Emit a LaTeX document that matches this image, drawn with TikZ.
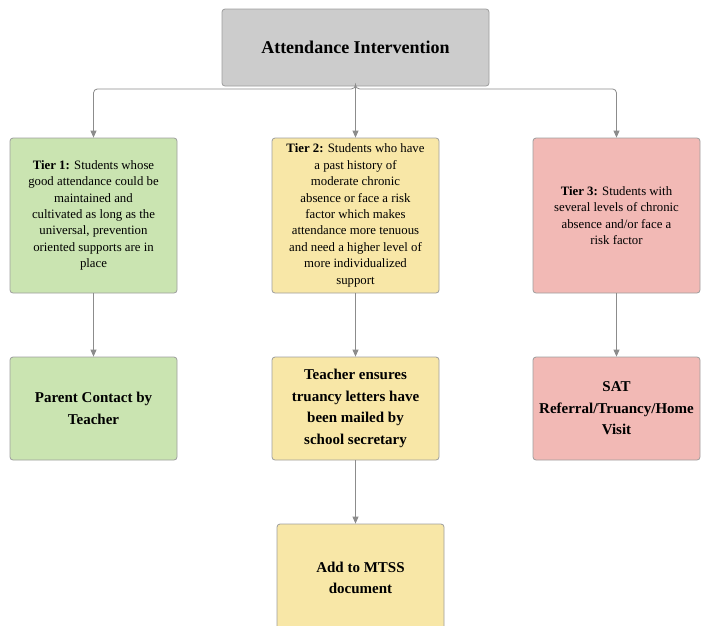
\documentclass[tikz,border=0pt]{standalone}
\usepackage{fontspec}
\setmainfont{Liberation Serif}
\usetikzlibrary{arrows.meta}
\definecolor{topfill}{HTML}{CCCCCC}
\definecolor{greenfill}{HTML}{CAE4B1}
\definecolor{yellowfill}{HTML}{F8E7A7}
\definecolor{pinkfill}{HTML}{F2B9B5}
\definecolor{boxline}{HTML}{9E9E9E}
\definecolor{arrline}{HTML}{8C8C8C}
\tikzset{
  box/.style={draw=boxline, line width=0.8pt, rounded corners=3pt, align=center,
    minimum width=167pt, inner sep=2pt},
  tierbox/.style={box, minimum height=155pt, font=\fontsize{12.8}{16.4}\selectfont},
  actbox/.style={box, minimum height=103pt, font=\fontsize{15}{21.5}\selectfont\bfseries},
  arr/.style={draw=arrline, line width=0.8pt, -{Triangle[width=6pt,length=7pt]}},
}
\begin{document}
\begin{tikzpicture}[x=1pt,y=-1pt]
\useasboundingbox (0,0) rectangle (701,625);
\clip (0,0) rectangle (701,625);
\node[box, fill=topfill, minimum width=267pt, minimum height=77pt,
  font=\fontsize{18}{22}\selectfont\bfseries] (top) at (355.5,47.5) {Attendance Intervention};

\node[tierbox, fill=greenfill] (t1) at (93.5,215.5)
  {\textbf{Tier 1:} Students whose\\good attendance could be\\maintained and\\cultivated as long as the\\universal, prevention\\oriented supports are in\\place};
\node[tierbox, fill=yellowfill] (t2) at (355.5,215.5)
  {\textbf{Tier 2:} Students who have\\a past history of\\moderate chronic\\absence or face a risk\\factor which makes\\attendance more tenuous\\and need a higher level of\\more individualized\\support};
\node[tierbox, fill=pinkfill] (t3) at (616.5,215.5)
  {\textbf{Tier 3:} Students with\\several levels of chronic\\absence and/or face a\\risk factor};

\node[actbox, fill=greenfill] (b1) at (93.5,408.5) {Parent Contact by\\Teacher};
\node[actbox, fill=yellowfill] (b2) at (355.5,408.5) {Teacher ensures\\truancy letters have\\been mailed by\\school secretary};
\node[actbox, fill=pinkfill] (b3) at (616.5,408.5) {SAT\\Referral/Truancy/Home\\Visit};

\node[actbox, fill=yellowfill, minimum height=108pt] (c2) at (360.5,578) {Add to MTSS\\document};

\draw[arr] (top.south) -- (t2.north);
\draw[arr, rounded corners=4pt] (top.south) -- ++(0,2.5) -| (t1.north);
\draw[arr, rounded corners=4pt] (top.south) -- ++(0,2.5) -| (t3.north);
\draw[arr] (t1.south) -- (b1.north);
\draw[arr] (t2.south) -- (b2.north);
\draw[arr] (t3.south) -- (b3.north);
\draw[arr] (b2.south) -- (b2.south |- c2.north);
\end{tikzpicture}
\end{document}
